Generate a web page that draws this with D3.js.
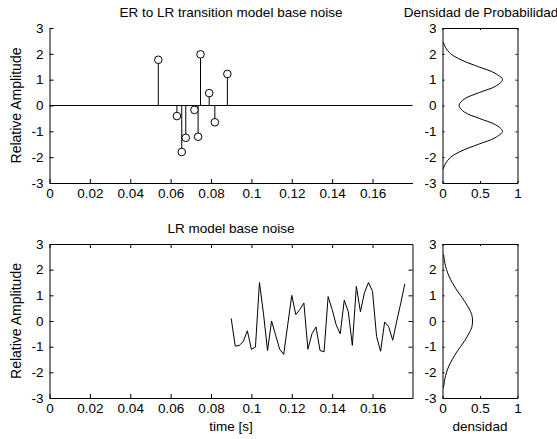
<!DOCTYPE html>
<html>
<head>
<meta charset="utf-8">
<script src="https://cdn.jsdelivr.net/npm/d3@7"></script>
<style>
  body { margin: 0; background: #fff; }
  text { font-family: "Liberation Sans", Arial, sans-serif; fill: #000; }
</style>
</head>
<body>
<svg id="fig" width="557" height="439"></svg>
<script>
// ER to LR transition noise (stems)
var stemTime = [0.0539, 0.0631, 0.0655, 0.0675, 0.0718, 0.0736, 0.0748, 0.0791, 0.0819, 0.0881];
var stemAmp = [1.77, -0.41, -1.80, -1.25, -0.17, -1.21, 1.98, 0.48, -0.65, 1.22];

// LR model base noise (line)
var lrTime = [0.090, 0.092, 0.094, 0.096, 0.098, 0.100, 0.102, 0.104, 0.106, 0.108,
              0.110, 0.112, 0.114, 0.116, 0.118, 0.120, 0.122, 0.124, 0.126, 0.128,
              0.130, 0.132, 0.134, 0.136, 0.138, 0.140, 0.142, 0.144, 0.146, 0.148,
              0.150, 0.152, 0.154, 0.156, 0.158, 0.160, 0.162, 0.164, 0.166, 0.168,
              0.170, 0.172, 0.174, 0.176];
var lrAmp = [0.10, -0.98, -0.95, -0.80, -0.38, -1.10, -1.02, 1.50, 0.28, -1.15,
             0.00, -0.55, -1.10, -1.30, -0.15, 1.00, 0.25, 0.45, 0.70, -1.10,
             -0.50, -0.23, -1.15, -1.20, 0.95, 0.45, -0.15, -0.50, 0.81, 0.36,
             -0.95, 1.35, 0.36, 1.10, 1.50, 1.15, -0.60, -1.18, -0.04, -0.22,
             -0.75, 0.00, 0.70, 1.45];

// density curves (amplitude, density)
var pdfTopAmp = [-2.45, -2.25, -2.0, -1.75, -1.5, -1.25, -1.0, -0.75, -0.5, -0.25, 0,
                 0.25, 0.5, 0.75, 1.0, 1.25, 1.5, 1.75, 2.0, 2.25, 2.45];
var pdfTopDen = [0.01, 0.04, 0.11, 0.26, 0.48, 0.70, 0.80, 0.71, 0.49, 0.29, 0.22,
                 0.29, 0.49, 0.71, 0.80, 0.70, 0.48, 0.26, 0.11, 0.04, 0.01];
var pdfBotAmp = [-2.6, -2.25, -2.0, -1.75, -1.5, -1.25, -1.0, -0.75, -0.5, -0.25, 0,
                 0.25, 0.5, 0.75, 1.0, 1.25, 1.5, 1.75, 2.0, 2.25, 2.6];
var pdfBotDen = [0.014, 0.032, 0.054, 0.086, 0.13, 0.18, 0.24, 0.30, 0.35, 0.39, 0.40,
                 0.39, 0.35, 0.30, 0.24, 0.18, 0.13, 0.086, 0.054, 0.032, 0.014];

var timeTicks = [0, 0.02, 0.04, 0.06, 0.08, 0.1, 0.12, 0.14, 0.16];
var ampTicks = [-3, -2, -1, 0, 1, 2, 3];
var denTicks = [0, 0.5, 1];

var svg = d3.select("#fig");
svg.append("rect").attr("width", 557).attr("height", 439).attr("fill", "#fff");

var numFmt = function (d) { return String(+d.toFixed(2)); };

function panel(left, right, top, bottom, xdom, xticks, box, tk) {
    var x = d3.scaleLinear().domain(xdom).range([left, right]);
    var y = d3.scaleLinear().domain([-3, 3]).range([bottom, top]);
    var g = svg.append("g");
    var ax = [];
    ax.push(g.append("g").attr("transform", "translate(0," + bottom + ")")
        .call(d3.axisBottom(x).tickValues(xticks).tickFormat(numFmt)
            .tickSizeInner(-tk).tickSizeOuter(0).tickPadding(5)));
    ax.push(g.append("g").attr("transform", "translate(" + left + ",0)")
        .call(d3.axisLeft(y).tickValues(ampTicks).tickFormat(numFmt)
            .tickSizeInner(-tk).tickSizeOuter(0).tickPadding(6)));
    if (box) {
        ax.push(g.append("g").attr("transform", "translate(0," + top + ")")
            .call(d3.axisTop(x).tickValues(xticks).tickFormat("")
                .tickSizeInner(-tk).tickSizeOuter(0)));
        ax.push(g.append("g").attr("transform", "translate(" + right + ",0)")
            .call(d3.axisRight(y).tickValues(ampTicks).tickFormat("")
                .tickSizeInner(-tk).tickSizeOuter(0)));
    }
    ax.forEach(function (a) {
        a.selectAll("path, line").attr("stroke", "#000");
        a.selectAll("text").attr("font-size", 13.5).attr("fill", "#000");
    });
    return { g: g, x: x, y: y };
}

// top left: stems
var p1 = panel(49.5, 412.5, 28, 183, [0, 0.1798], timeTicks, false, 4);
p1.g.append("line")
    .attr("x1", p1.x(0)).attr("x2", p1.x(0.1798))
    .attr("y1", p1.y(0)).attr("y2", p1.y(0))
    .attr("stroke", "#000");
var stems = d3.range(stemTime.length);
p1.g.selectAll(".stem").data(stems).enter().append("line")
    .attr("x1", function (i) { return p1.x(stemTime[i]); })
    .attr("x2", function (i) { return p1.x(stemTime[i]); })
    .attr("y1", p1.y(0))
    .attr("y2", function (i) { return p1.y(stemAmp[i]); })
    .attr("stroke", "#000");
p1.g.selectAll("circle").data(stems).enter().append("circle")
    .attr("cx", function (i) { return p1.x(stemTime[i]); })
    .attr("cy", function (i) { return p1.y(stemAmp[i]); })
    .attr("r", 3.8)
    .attr("fill", "#fff").attr("stroke", "#000");

// bottom left: line
var p2 = panel(49.5, 412.5, 244, 398, [0, 0.1798], timeTicks, true, 4);
var lrLine = d3.line()
    .x(function (i) { return p2.x(lrTime[i]); })
    .y(function (i) { return p2.y(lrAmp[i]); });
p2.g.append("path").attr("d", lrLine(d3.range(lrTime.length)))
    .attr("fill", "none").attr("stroke", "#000").attr("stroke-width", 1);

// densities
var p3 = panel(442.5, 517.5, 28, 183, [0, 1], denTicks, true, 2);
var p4 = panel(442.5, 517.5, 244, 398, [0, 1], denTicks, true, 2);
function pdfPath(p, amp, den) {
    var line = d3.line().curve(d3.curveCatmullRom)
        .x(function (i) { return p.x(den[i]); })
        .y(function (i) { return p.y(amp[i]); });
    p.g.append("path").attr("d", line(d3.range(amp.length)))
        .attr("fill", "none").attr("stroke", "#000").attr("stroke-width", 1);
}
pdfPath(p3, pdfTopAmp, pdfTopDen);
pdfPath(p4, pdfBotAmp, pdfBotDen);

// titles and labels
function label(txt, x, y, rot, size) {
    var t = svg.append("text").attr("font-size", size || 13.5)
        .attr("text-anchor", "middle").text(txt);
    if (rot) t.attr("transform", "translate(" + x + "," + y + ") rotate(-90)");
    else t.attr("x", x).attr("y", y);
}
label("ER to LR transition model base noise", 231, 16.5);
label("Densidad de Probabilidad", 481, 16.5);
label("LR model base noise", 231, 233);
label("time [s]", 231, 431);
label("densidad", 480, 431);
label("Relative Amplitude", 21, 105.5, true, 14);
label("Relative Amplitude", 21, 321, true, 14);
</script>
</body>
</html>
